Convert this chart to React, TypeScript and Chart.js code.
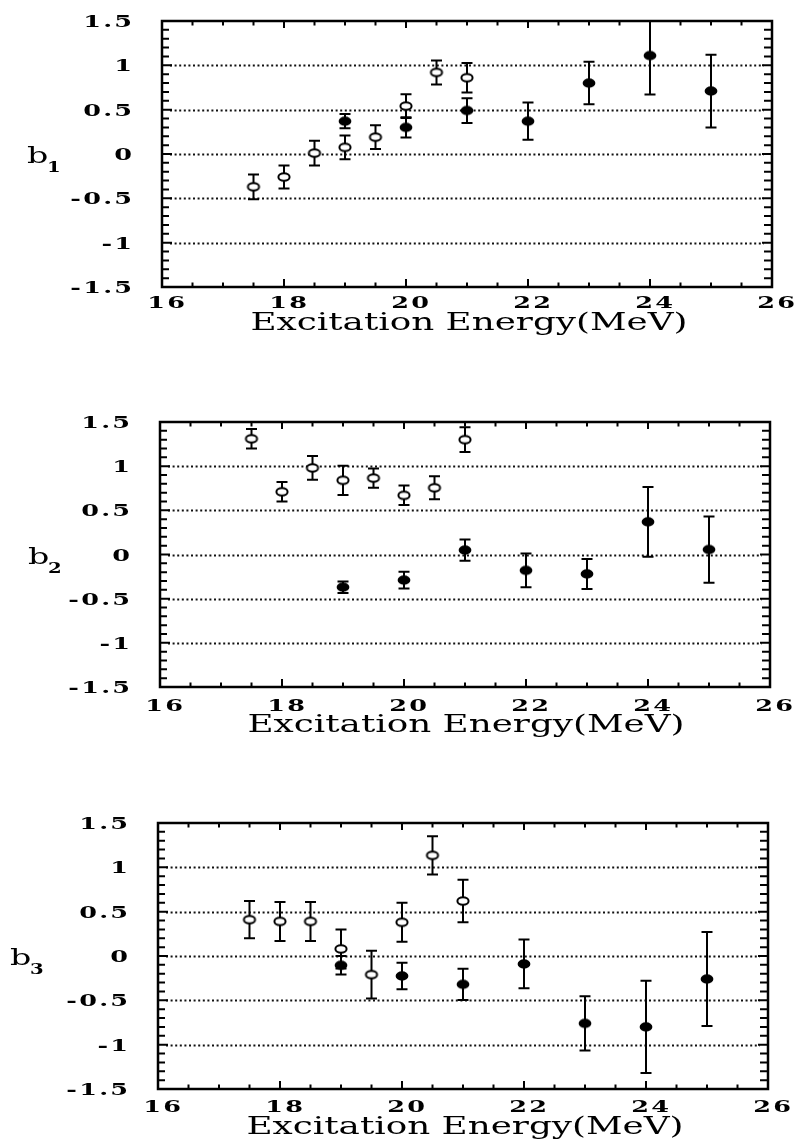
import { useEffect, useRef } from 'react';
import { Chart, registerables } from 'chart.js';

Chart.register(...registerables);

// Excitation energies (MeV) of the two data sets
const E_OPEN = [17.5, 18, 18.5, 19, 19.5, 20, 20.5, 21];
const E_FILLED = [19, 20, 21, 22, 23, 24, 25];

// b1 coefficients and their uncertainties
const B1_OPEN = [-0.37, -0.26, 0.01, 0.075, 0.19, 0.54, 0.92, 0.86];
const B1_OPEN_ERR = [0.14, 0.13, 0.14, 0.135, 0.135, 0.135, 0.135, 0.165];
const B1_FILLED = [0.37, 0.3, 0.49, 0.37, 0.8, 1.11, 0.71];
const B1_FILLED_ERR = [0.08, 0.115, 0.14, 0.21, 0.24, 0.44, 0.41];

// b2 coefficients and their uncertainties
const B2_OPEN = [1.31, 0.71, 0.98, 0.84, 0.865, 0.67, 0.755, 1.3];
const B2_OPEN_ERR = [0.11, 0.11, 0.135, 0.165, 0.11, 0.11, 0.13, 0.14];
const B2_FILLED = [-0.37, -0.29, 0.05, -0.18, -0.22, 0.37, 0.056];
const B2_FILLED_ERR = [0.065, 0.095, 0.12, 0.19, 0.17, 0.395, 0.375];

// b3 coefficients and their uncertainties
const B3_OPEN = [0.41, 0.39, 0.39, 0.08, -0.21, 0.38, 1.135, 0.62];
const B3_OPEN_ERR = [0.21, 0.22, 0.22, 0.22, 0.27, 0.22, 0.215, 0.24];
const B3_FILLED = [-0.105, -0.225, -0.32, -0.09, -0.76, -0.8, -0.26];
const B3_FILLED_ERR = [0.105, 0.15, 0.175, 0.275, 0.305, 0.52, 0.53];

// Axes
const X_MIN = 16;
const X_MAX = 26;
const Y_MIN = -1.5;
const Y_MAX = 1.5;
const X_TICK_LABELS = [16, 18, 20, 22, 24, 26];
const Y_TICK_LABELS = [1.5, 1, 0.5, 0, -0.5, -1, -1.5];
const Y_GRID = [1, 0.5, 0, -0.5, -1];
const X_TITLE = 'Excitation Energy(MeV)';
const Y_SUBSCRIPTS = ['1', '2', '3'];

type Series = { open: number[]; openErr: number[]; filled: number[]; filledErr: number[] };
const SERIES: Series[] = [
  { open: B1_OPEN, openErr: B1_OPEN_ERR, filled: B1_FILLED, filledErr: B1_FILLED_ERR },
  { open: B2_OPEN, openErr: B2_OPEN_ERR, filled: B2_FILLED, filledErr: B2_FILLED_ERR },
  { open: B3_OPEN, openErr: B3_OPEN_ERR, filled: B3_FILLED, filledErr: B3_FILLED_ERR },
];

// Canvas placement and plot-box geometry for each panel
type Frame = {
  top: number; height: number; left: number; right: number;
  areaTop: number; areaBottom: number; bX: number; titleX: number;
  labelDy: number; titleDy: number;
};
const FRAMES: Frame[] = [
  { top: 0, height: 401, left: 162, right: 772, areaTop: 21, areaBottom: 287, bX: 27, titleX: 469, labelDy: 21, titleDy: 43 },
  { top: 401, height: 401, left: 160, right: 770, areaTop: 21, areaBottom: 286, bX: 28, titleX: 466, labelDy: 24, titleDy: 45 },
  { top: 802, height: 342, left: 158, right: 768, areaTop: 21, areaBottom: 287, bX: 10, titleX: 465, labelDy: 23, titleDy: 45 },
];

const SERIF = '"DejaVu Serif", "Liberation Serif", serif';
const STRETCH = 1.5;

function drawText(
  ctx: CanvasRenderingContext2D,
  text: string,
  x: number,
  y: number,
  font: string,
  align: 'left' | 'center' | 'right',
  sx: number,
  spacing: number,
) {
  ctx.save();
  ctx.font = font;
  ctx.textBaseline = 'alphabetic';
  ctx.textAlign = 'left';
  const anyCtx = ctx as any;
  const hasLS = 'letterSpacing' in anyCtx;
  if (hasLS) anyCtx.letterSpacing = '0px';
  const w0 = ctx.measureText(text).width;
  const n = Array.from(text).length;
  const sp = hasLS ? spacing : 0;
  const w = (w0 + sp * (n - 1)) * sx;
  const x0 = align === 'left' ? x : align === 'center' ? x - w / 2 : x - w;
  ctx.translate(x0, y);
  ctx.scale(sx, 1);
  if (hasLS) anyCtx.letterSpacing = sp + 'px';
  ctx.fillStyle = '#000';
  ctx.fillText(text, 0, 0);
  ctx.restore();
}

function makeMarker(filled: boolean): HTMLCanvasElement {
  const c = document.createElement('canvas');
  c.width = 16;
  c.height = 12;
  const g = c.getContext('2d')!;
  g.beginPath();
  if (filled) {
    g.ellipse(8, 6, 6.4, 4.7, 0, 0, Math.PI * 2);
    g.fillStyle = '#000';
    g.fill();
  } else {
    g.ellipse(8, 6, 5.6, 3.7, 0, 0, Math.PI * 2);
    g.fillStyle = '#fff';
    g.fill();
    g.lineWidth = 2;
    g.strokeStyle = '#000';
    g.stroke();
  }
  return c;
}

function drawErrorBars(
  ctx: CanvasRenderingContext2D,
  chart: Chart,
  xs: number[],
  ys: number[],
  errs: number[],
) {
  const sx = chart.scales.x;
  const sy = chart.scales.y;
  const a = chart.chartArea;
  ctx.save();
  ctx.beginPath();
  ctx.rect(a.left, a.top, a.right - a.left, a.bottom - a.top);
  ctx.clip();
  ctx.strokeStyle = '#000';
  ctx.lineWidth = 2;
  const cap = 5.5;
  xs.forEach((x, i) => {
    const px = sx.getPixelForValue(x);
    const top = sy.getPixelForValue(ys[i] + errs[i]);
    const bot = sy.getPixelForValue(ys[i] - errs[i]);
    ctx.beginPath();
    ctx.moveTo(px, top);
    ctx.lineTo(px, bot);
    ctx.moveTo(px - cap, top);
    ctx.lineTo(px + cap, top);
    ctx.moveTo(px - cap, bot);
    ctx.lineTo(px + cap, bot);
    ctx.stroke();
  });
  ctx.restore();
}

function Panel({ index }: { index: number }) {
  const ref = useRef<HTMLCanvasElement>(null);
  const frame = FRAMES[index];
  const series = SERIES[index];

  useEffect(() => {
    const canvas = ref.current;
    if (!canvas) return;

    const decorations = {
      id: 'panelDecorations',
      beforeDatasetsDraw(chart: Chart) {
        const ctx = chart.ctx;
        const sx = chart.scales.x;
        const sy = chart.scales.y;
        const a = chart.chartArea;

        // dotted horizontal grid
        ctx.save();
        ctx.strokeStyle = '#111';
        ctx.lineWidth = 1.8;
        ctx.setLineDash([2, 2.6]);
        Y_GRID.forEach((v) => {
          const py = Math.round(sy.getPixelForValue(v)) + 0.5;
          ctx.beginPath();
          ctx.moveTo(a.left + 8, py);
          ctx.lineTo(a.right - 8, py);
          ctx.stroke();
        });
        ctx.restore();

        // inward tick marks
        ctx.save();
        ctx.strokeStyle = '#000';
        ctx.lineWidth = 2;
        ctx.beginPath();
        for (let k = 0; k <= (X_MAX - X_MIN) * 2; k++) {
          const v = X_MIN + k / 2;
          const px = sx.getPixelForValue(v);
          const major = k % 4 === 0;
          ctx.moveTo(px, a.bottom);
          ctx.lineTo(px, a.bottom - (major ? 8 : 4.5));
          ctx.moveTo(px, a.top);
          ctx.lineTo(px, a.top + (major ? 7 : 4.5));
        }
        for (let k = 0; k <= (Y_MAX - Y_MIN) * 10; k++) {
          const v = Y_MIN + k / 10;
          const py = sy.getPixelForValue(v);
          const major = k % 5 === 0;
          ctx.moveTo(a.left, py);
          ctx.lineTo(a.left + (major ? 10 : 7), py);
          ctx.moveTo(a.right, py);
          ctx.lineTo(a.right - (major ? 10 : 8), py);
        }
        ctx.stroke();
        ctx.restore();

        drawErrorBars(ctx, chart, E_OPEN, series.open, series.openErr);
        drawErrorBars(ctx, chart, E_FILLED, series.filled, series.filledErr);
      },
      afterDraw(chart: Chart) {
        const ctx = chart.ctx;
        const sx = chart.scales.x;
        const sy = chart.scales.y;
        const a = chart.chartArea;

        // plot frame
        ctx.save();
        ctx.strokeStyle = '#000';
        ctx.lineWidth = 2.5;
        ctx.strokeRect(a.left, a.top, a.right - a.left, a.bottom - a.top);
        ctx.restore();

        const tickFont = `bold 17px ${SERIF}`;
        Y_TICK_LABELS.forEach((v) => {
          const py = sy.getPixelForValue(v);
          drawText(ctx, String(v), a.left - 30, py + 6, tickFont, 'right', STRETCH, 1.5);
        });
        X_TICK_LABELS.forEach((v) => {
          const px = sx.getPixelForValue(v);
          drawText(ctx, String(v), px + 4, a.bottom + frame.labelDy, tickFont, 'center', STRETCH, 1.5);
        });

        // axis titles
        drawText(ctx, X_TITLE, frame.titleX, a.bottom + frame.titleDy, `25px ${SERIF}`, 'center', 1.43, 0);
        const zeroY = sy.getPixelForValue(0);
        drawText(ctx, 'b', frame.bX, zeroY + 9, `23px ${SERIF}`, 'left', 1.45, 0);
        drawText(ctx, Y_SUBSCRIPTS[index], frame.bX + 20, zeroY + 18, `bold 14px ${SERIF}`, 'left', 1.4, 0);
      },
    };

    const chart = new Chart(canvas, {
      type: 'scatter',
      data: {
        datasets: [
          {
            data: E_OPEN.map((x, i) => ({ x, y: series.open[i] })),
            pointStyle: makeMarker(false),
            pointRadius: 6,
            pointHoverRadius: 6,
          },
          {
            data: E_FILLED.map((x, i) => ({ x, y: series.filled[i] })),
            pointStyle: makeMarker(true),
            pointRadius: 6,
            pointHoverRadius: 6,
          },
        ],
      },
      options: {
        responsive: false,
        animation: false,
        devicePixelRatio: 1,
        events: [],
        layout: {
          padding: { top: frame.areaTop, right: 800 - frame.right, left: 0, bottom: 0 },
        },
        plugins: {
          legend: { display: false },
          tooltip: { enabled: false },
        },
        scales: {
          x: {
            type: 'linear',
            min: X_MIN,
            max: X_MAX,
            ticks: { display: false },
            grid: { display: false },
            border: { display: false },
            afterFit: (s: any) => {
              s.height = frame.height - frame.areaBottom;
            },
          },
          y: {
            type: 'linear',
            min: Y_MIN,
            max: Y_MAX,
            ticks: { display: false },
            grid: { display: false },
            border: { display: false },
            afterFit: (s: any) => {
              s.width = frame.left;
            },
          },
        },
      },
      plugins: [decorations],
    });
    return () => chart.destroy();
  }, [index]);

  return (
    <canvas
      ref={ref}
      width={800}
      height={frame.height}
      style={{ position: 'absolute', left: 0, top: frame.top, width: 800, height: frame.height, display: 'block' }}
    />
  );
}

export default function App() {
  return (
    <div
      style={{
        position: 'absolute',
        left: 0,
        top: 0,
        width: 800,
        height: 1144,
        overflow: 'hidden',
        background: '#fff',
      }}
    >
      {FRAMES.map((_, i) => (
        <Panel key={i} index={i} />
      ))}
    </div>
  );
}
